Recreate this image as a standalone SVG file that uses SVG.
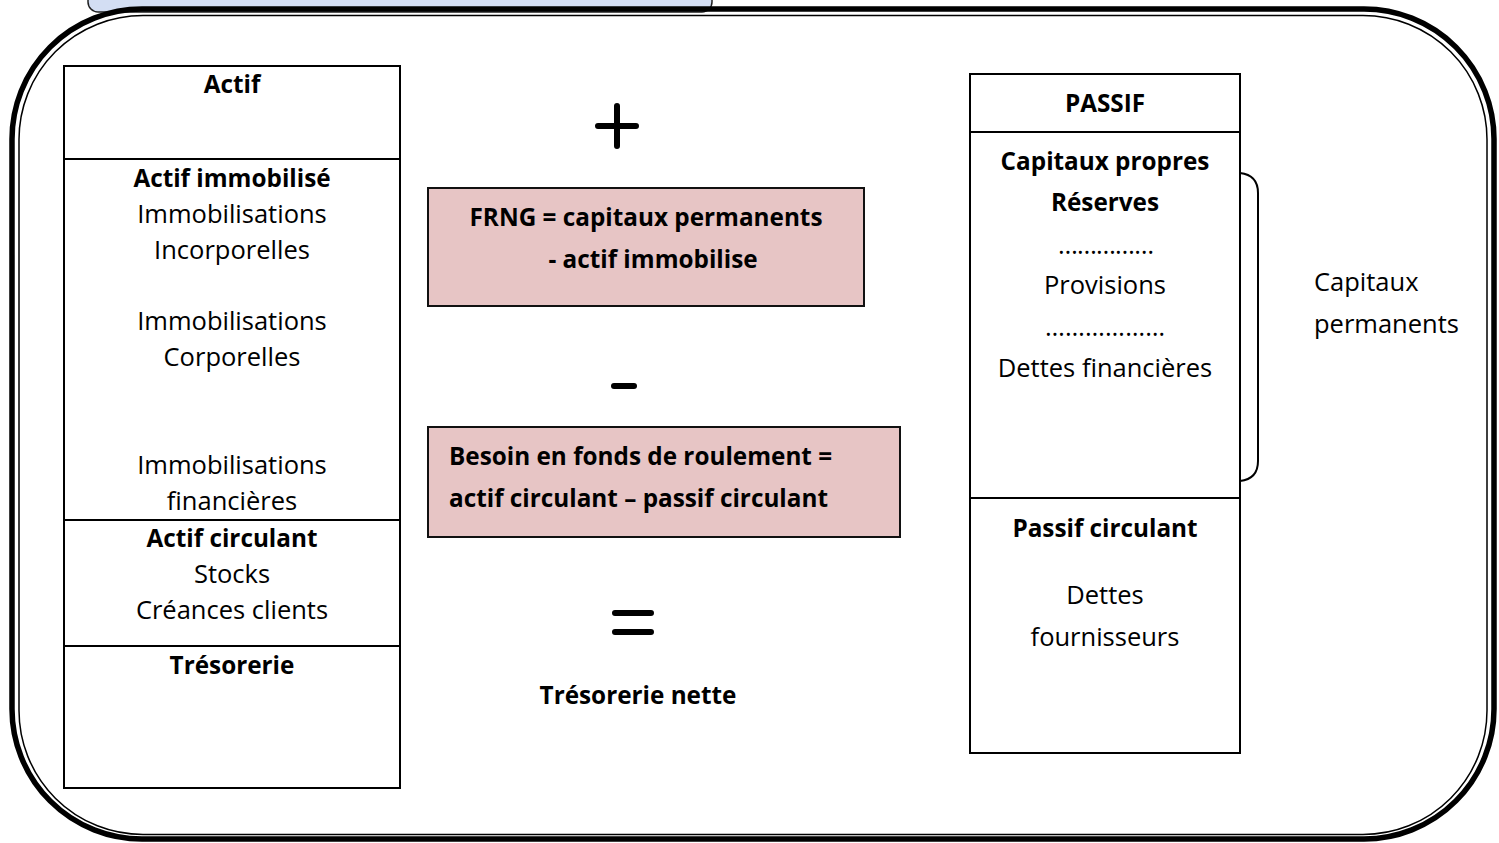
<svg xmlns="http://www.w3.org/2000/svg" width="1499" height="843" viewBox="0 0 1499 843">
<style>
.t{font-family:"Open Sans","Liberation Sans",sans-serif;font-size:25.5px;fill:#000;text-anchor:middle}
.b{font-weight:bold;font-size:24.3px}
.l{text-anchor:start}
.box{fill:#fff;stroke:#000;stroke-width:2}
.pink{fill:#e7c5c5;stroke:#111;stroke-width:2}
.ln{stroke:#000;stroke-width:2;fill:none}
.sym{stroke:#000;stroke-width:6;stroke-linecap:round;fill:none}
</style>
<rect width="1499" height="843" fill="#fff"/>
<g id="tab">
<rect x="88" y="-20" width="624" height="32" rx="10" fill="#d3def3" stroke="#222" stroke-width="1.5"/>
</g>
<g id="frame">
<rect x="12" y="9" width="1482" height="830" rx="130" fill="none" stroke="#000" stroke-width="5.5"/>
<rect x="19" y="15.5" width="1468" height="819" rx="124" fill="none" stroke="#000" stroke-width="1.5"/>
</g>
<g id="actif">
<rect class="box" x="64" y="66" width="336" height="722"/>
<line class="ln" x1="64" y1="159" x2="400" y2="159"/>
<line class="ln" x1="64" y1="520" x2="400" y2="520"/>
<line class="ln" x1="64" y1="646" x2="400" y2="646"/>
<text class="t b" x="232" y="93">Actif</text>
<text class="t b" x="232" y="187">Actif immobilisé</text>
<text class="t" x="232" y="223">Immobilisations</text>
<text class="t" x="232" y="259">Incorporelles</text>
<text class="t" x="232" y="330">Immobilisations</text>
<text class="t" x="232" y="366">Corporelles</text>
<text class="t" x="232" y="474">Immobilisations</text>
<text class="t" x="232" y="510">financières</text>
<text class="t b" x="232" y="547">Actif circulant</text>
<text class="t" x="232" y="583">Stocks</text>
<text class="t" x="232" y="619">Créances clients</text>
<text class="t b" x="232" y="674">Trésorerie</text>
</g>
<g id="passif">
<rect class="box" x="970" y="74" width="270" height="679"/>
<line class="ln" x1="970" y1="132" x2="1240" y2="132"/>
<line class="ln" x1="970" y1="498" x2="1240" y2="498"/>
<text class="t b" x="1105" y="112">PASSIF</text>
<text class="t b" x="1105" y="170">Capitaux propres</text>
<text class="t b" x="1105" y="211">Réserves</text>
<text class="t" x="1106" y="254" textLength="96" lengthAdjust="spacing">……………</text>
<text class="t" x="1105" y="294">Provisions</text>
<text class="t" x="1105" y="336" textLength="120" lengthAdjust="spacing">………………</text>
<text class="t" x="1105" y="377">Dettes financières</text>
<text class="t b" x="1105" y="537">Passif circulant</text>
<text class="t" x="1105" y="604">Dettes</text>
<text class="t" x="1105" y="646">fournisseurs</text>
</g>
<g id="frng">
<rect class="pink" x="428" y="188" width="436" height="118"/>
<text class="t b" x="646" y="226">FRNG = capitaux permanents</text>
<text class="t b" x="653" y="268">- actif immobilise</text>
</g>
<g id="bfr">
<rect class="pink" x="428" y="427" width="472" height="110"/>
<text class="t b l" x="449" y="465">Besoin en fonds de roulement =</text>
<text class="t b l" x="449" y="507">actif circulant – passif circulant</text>
</g>
<g id="operators">
<path class="sym" d="M598 126H636M617 106V146"/>
<path class="sym" d="M614 386H634"/>
<path class="sym" d="M615 613H651M615 632H651"/>
</g>
<g id="treso">
<text class="t b" x="638" y="704">Trésorerie nette</text>
</g>
<g id="connectors">
<path class="ln" stroke-width="1.5" d="M1240 173Q1258 175 1258 193V461Q1258 479 1240 481"/>
</g>
<g id="capperm">
<text class="t l" x="1314" y="291">Capitaux</text>
<text class="t l" x="1314" y="333">permanents</text>
</g>
</svg>
